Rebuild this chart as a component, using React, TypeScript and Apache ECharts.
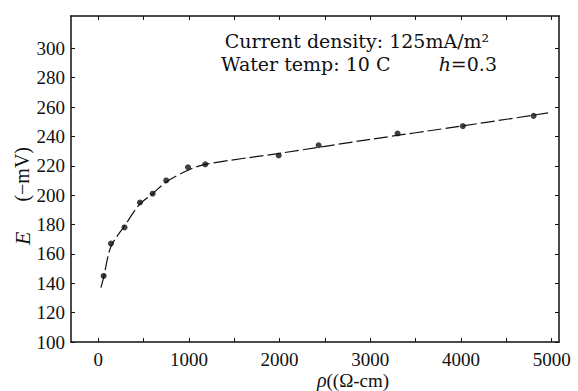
import React, { useEffect, useRef } from "react";
import * as echarts from "echarts";

// Measured points: resistivity rho (Ω-cm) vs potential E (−mV)
const rho = [60, 140, 290, 460, 600, 750, 990, 1180, 1990, 2430, 3300, 4020, 4800];
const potential = [145, 167, 178, 195, 201, 210, 219, 221, 227, 234, 242, 247, 254];

// Hand-drawn fitted curve
const curveRho = [30, 60, 140, 290, 460, 600, 750, 990, 1180, 2000, 3000, 4000, 4960];
const curveE = [137, 144, 165, 179, 194, 201, 209, 217, 221, 228.5, 238, 247, 256];

const xTickValues = [0, 500, 1000, 1500, 2000, 2500, 3000, 3500, 4000, 4500, 5000];
const xLabelValues = [0, 1000, 2000, 3000, 4000, 5000];
const yTickValues = [100, 120, 140, 160, 180, 200, 220, 240, 260, 280, 300];

const noteLine1 = "Current density: 125mA/m²";
const noteLine2a = "Water temp: 10 C";
const noteLine2b = "{i|h}=0.3";
const xTitle = "{i|ρ}((Ω-cm)";
const yTitle = "{i|E}      (−mV)";

const INK = "#111";
const SERIF = "Liberation Serif";

export default function App() {
  const ref = useRef<HTMLDivElement>(null);

  useEffect(() => {
    if (!ref.current) return;
    const chart = echarts.init(ref.current, undefined, { renderer: "svg" });
    const axisLine = { show: true, onZero: false, lineStyle: { color: INK, width: 1.5 } };
    const xBase = {
      type: "value",
      min: -300,
      max: 5080,
      axisLine,
      splitLine: { show: false },
    };
    const yBase = {
      type: "value",
      min: 100,
      max: 322,
      axisLine,
      splitLine: { show: false },
    };
    const plain = (v: number) => String(v);
    chart.setOption({
      animation: false,
      backgroundColor: "#fff",
      grid: { left: 71, right: 19, top: 16, bottom: 49 },
      xAxis: [
        {
          ...xBase,
          position: "bottom",
          axisTick: { show: true, inside: true, length: 4, customValues: xTickValues, lineStyle: { color: INK } },
          axisLabel: {
            customValues: xLabelValues,
            formatter: plain,
            fontFamily: SERIF,
            fontSize: 19,
            color: INK,
            margin: 8,
          },
        },
        {
          ...xBase,
          position: "top",
          axisTick: { show: true, inside: true, length: 4, customValues: xTickValues, lineStyle: { color: INK } },
          axisLabel: { show: false },
        },
      ],
      yAxis: [
        {
          ...yBase,
          position: "left",
          axisTick: { show: true, inside: true, length: 4, customValues: yTickValues, lineStyle: { color: INK } },
          axisLabel: {
            customValues: yTickValues,
            formatter: plain,
            fontFamily: SERIF,
            fontSize: 19,
            color: INK,
            margin: 6,
          },
        },
        {
          ...yBase,
          position: "right",
          axisTick: { show: true, inside: true, length: 4, customValues: yTickValues, lineStyle: { color: INK } },
          axisLabel: { show: false },
        },
      ],
      series: [
        {
          type: "line",
          xAxisIndex: 0,
          yAxisIndex: 0,
          data: curveRho.map((x, i) => [x, curveE[i]]),
          smooth: 0.3,
          showSymbol: false,
          silent: true,
          lineStyle: { color: INK, width: 1.2, type: [14, 4] },
        },
        {
          type: "scatter",
          xAxisIndex: 0,
          yAxisIndex: 0,
          data: rho.map((x, i) => [x, potential[i]]),
          symbol: "circle",
          symbolSize: 6,
          itemStyle: { color: INK },
        },
      ],
      graphic: [
        {
          type: "text",
          x: 357,
          y: 41,
          style: {
            text: noteLine1,
            font: "19px DejaVu Serif",
            fill: INK,
            align: "center",
            verticalAlign: "middle",
          },
        },
        {
          type: "text",
          x: 221,
          y: 64,
          style: {
            text: noteLine2a,
            font: "19px DejaVu Serif",
            fill: INK,
            align: "left",
            verticalAlign: "middle",
          },
        },
        {
          type: "text",
          x: 497,
          y: 64,
          style: {
            text: noteLine2b,
            font: "19px DejaVu Serif",
            fill: INK,
            align: "right",
            verticalAlign: "middle",
            rich: { i: { font: "italic 19px DejaVu Serif", fill: INK } },
          },
        },
        {
          type: "text",
          x: 353,
          y: 380,
          style: {
            text: xTitle,
            font: "19px Liberation Serif",
            fill: INK,
            align: "center",
            verticalAlign: "middle",
            rich: { i: { font: "italic 20px Liberation Serif", fill: INK } },
          },
        },
        {
          type: "text",
          x: 22,
          y: 196,
          rotation: Math.PI / 2,
          style: {
            text: yTitle,
            font: "20px Liberation Serif",
            fill: INK,
            align: "center",
            verticalAlign: "middle",
            rich: { i: { font: "italic 22px Liberation Serif", fill: INK } },
          },
        },
      ],
    });
    return () => chart.dispose();
  }, []);

  return (
    <div
      ref={ref}
      style={{ position: "absolute", left: 0, top: 0, width: 578, height: 391, background: "#fff" }}
    />
  );
}
